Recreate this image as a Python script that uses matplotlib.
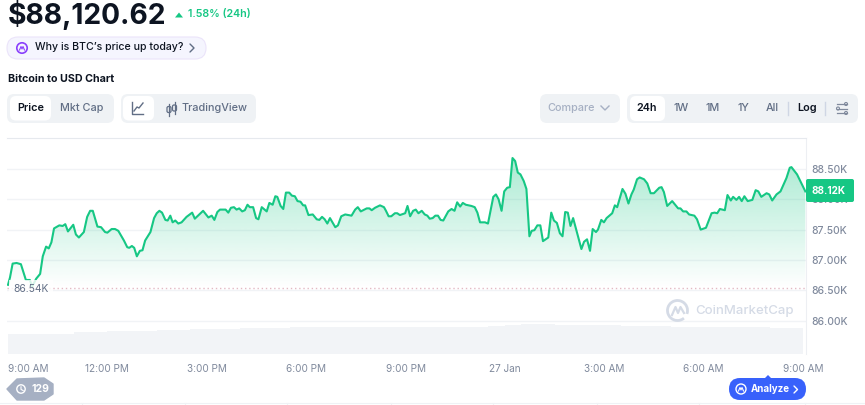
# -*- coding: utf-8 -*-
"""Bitcoin to USD chart, 24h view with the page controls around it."""
import numpy as np
import matplotlib
matplotlib.use("Agg")
import matplotlib.pyplot as plt
from matplotlib.patches import FancyBboxPatch, Polygon, Circle, Arc

plt.rcParams["font.family"] = ["Inter", "DejaVu Sans"]

GREEN = "#16C784"
GREY = "#808A9D"
SLATE = "#616E85"
PANEL = "#EFF2F5"
BAND = "#F2F4F7"
GRID = "#F1F3F6"
INK = "#0D1421"

# hours since 9:00 AM, price in thousands of USD
hours = [
    0.00, 0.06, 0.14, 0.26, 0.39, 0.54, 0.66, 0.73, 0.85, 0.97, 1.05, 1.15, 1.23, 1.31, 1.39, 1.55,
    1.65, 1.73, 1.81, 1.97, 2.05, 2.14, 2.29, 2.39, 2.48, 2.56, 2.70, 2.81, 2.93, 3.00, 3.13, 3.23,
    3.33, 3.50, 3.60, 3.66, 3.74, 3.81, 3.89, 3.98, 4.06, 4.14, 4.30, 4.41, 4.49, 4.57, 4.65, 4.75,
    4.82, 4.90, 4.97, 5.05, 5.14, 5.24, 5.39, 5.56, 5.64, 5.89, 6.05, 6.15, 6.23, 6.32, 6.40, 6.57,
    6.65, 6.73, 6.82, 6.90, 6.98, 7.07, 7.15, 7.23, 7.30, 7.40, 7.49, 7.56, 7.66, 7.81, 7.89, 7.99,
    8.07, 8.13, 8.23, 8.31, 8.39, 8.49, 8.57, 8.66, 8.74, 8.83, 8.91, 8.97, 9.07, 9.20, 9.32, 9.40,
    9.48, 9.56, 9.64, 9.72, 9.88, 9.96, 10.06, 10.18, 10.27, 10.37, 10.48, 10.56, 10.65, 10.83,
    10.91, 10.98, 11.08, 11.23, 11.35, 11.41, 11.49, 11.57, 11.68, 11.75, 11.83, 11.99, 12.06,
    12.14, 12.23, 12.31, 12.39, 12.49, 12.58, 12.66, 12.73, 12.82, 12.90, 12.98, 13.06, 13.14,
    13.29, 13.39, 13.48, 13.56, 13.65, 13.73, 13.82, 13.99, 14.09, 14.17, 14.25, 14.40, 14.49,
    14.65, 14.73, 14.81, 14.90, 14.98, 15.07, 15.15, 15.23, 15.31, 15.39, 15.47, 15.57, 15.65,
    15.74, 15.81, 15.89, 15.98, 16.07, 16.15, 16.23, 16.31, 16.40, 16.48, 16.57, 16.66, 16.74,
    16.82, 16.90, 16.98, 17.06, 17.31, 17.39, 17.48, 17.57, 17.65, 17.75, 17.81, 17.91, 17.99,
    18.07, 18.24, 18.32, 18.39, 18.55, 18.64, 18.73, 18.82, 18.89, 18.99, 19.07, 19.20, 19.30,
    19.40, 19.50, 19.66, 19.73, 19.80, 19.90, 20.05, 20.23, 20.30, 20.38, 20.48, 20.56, 20.72,
    20.80, 20.91, 21.07, 21.24, 21.33, 21.41, 21.49, 21.64, 21.72, 21.82, 21.89, 21.99, 22.07,
    22.15, 22.23, 22.33, 22.47, 22.57, 22.65, 22.74, 22.90, 22.98, 23.07, 23.20, 23.32, 23.50,
    23.60, 23.65, 23.82, 24.07,
]
prices = [
    86.59, 86.71, 86.94, 86.95, 86.93, 86.67, 86.67, 86.56, 86.69, 86.77, 87.06, 87.22, 87.19, 87.29, 87.52, 87.57,
    87.56, 87.59, 87.47, 87.58, 87.42, 87.37, 87.46, 87.71, 87.81, 87.81, 87.55, 87.54, 87.46, 87.45, 87.51, 87.51,
    87.48, 87.32, 87.21, 87.20, 87.23, 87.20, 87.06, 87.15, 87.16, 87.32, 87.46, 87.69, 87.77, 87.81, 87.78, 87.66,
    87.65, 87.73, 87.62, 87.65, 87.60, 87.62, 87.71, 87.78, 87.68, 87.81, 87.70, 87.73, 87.66, 87.79, 87.83, 87.83,
    87.78, 87.86, 87.87, 87.83, 87.85, 87.80, 87.82, 87.91, 87.87, 87.87, 87.69, 87.67, 87.87, 87.80, 87.94, 87.91,
    88.05, 88.04, 87.89, 87.84, 88.11, 88.11, 88.06, 88.05, 87.97, 87.96, 87.90, 87.90, 87.74, 87.75, 87.67, 87.66,
    87.71, 87.67, 87.60, 87.69, 87.54, 87.57, 87.72, 87.75, 87.74, 87.73, 87.83, 87.87, 87.80, 87.85,
    87.85, 87.82, 87.86, 87.90, 87.87, 87.81, 87.72, 87.72, 87.77, 87.77, 87.74, 87.77, 87.89,
    87.72, 87.81, 87.83, 87.77, 87.81, 87.75, 87.73, 87.68, 87.69, 87.73, 87.73, 87.66, 87.65,
    87.80, 87.84, 87.81, 87.95, 87.88, 87.94, 87.91, 87.89, 87.87, 87.78, 87.62, 87.62, 87.60,
    88.04, 88.08, 88.00, 87.81, 88.13, 88.19, 88.20, 88.68, 88.63, 88.44, 88.41, 88.30, 88.17,
    87.39, 87.48, 87.49, 87.57, 87.57, 87.31, 87.34, 87.37, 87.78, 87.65, 87.61, 87.44, 87.39,
    87.79, 87.78, 87.56, 87.69, 87.18, 87.30, 87.34, 87.15, 87.51, 87.46, 87.50, 87.66, 87.62,
    87.69, 87.77, 87.90, 87.87, 88.17, 88.09, 87.93, 88.08, 88.16, 88.33, 88.36, 88.33, 88.26,
    88.10, 88.10, 88.19, 88.20, 88.12, 87.89, 87.97, 87.85, 87.85, 87.80, 87.80, 87.75, 87.73,
    87.67, 87.50, 87.53, 87.77, 87.78, 87.77, 87.84, 87.82, 88.07, 87.98, 88.04, 87.99, 88.04,
    87.97, 88.05, 87.97, 87.99, 88.15, 88.13, 88.04, 88.10, 88.08, 87.98, 88.08, 88.13, 88.35,
    88.52, 88.53, 88.41, 88.13,
]
# half-hourly volume, relative height
volumes = [
    19.7, 19.8, 20.2, 20.5, 22.0, 22.0, 22.8, 23.0, 23.2, 23.8, 23.8, 25.0, 25.0, 25.2, 25.7, 25.8,
    26.0, 26.7, 26.7, 26.7, 26.7, 26.7, 26.7, 26.7, 26.7, 26.7, 26.8, 26.7, 27.0, 28.0, 29.5, 29.8,
    30.0, 29.5, 29.0, 29.0, 29.0, 28.5, 28.5, 28.0, 27.5, 27.5, 27.5, 27.0, 26.8, 26.7, 26.3, 26.0,
]
price_ticks = [86.0, 86.5, 87.0, 87.5, 88.0, 88.5]
price_labels = ["86.00K", "86.50K", "87.00K", "87.50K", "88.00K", "88.50K"]
time_ticks = [0, 3, 6, 9, 12, 15, 18, 21, 24]
time_labels = ["9:00 AM", "12:00 PM", "3:00 PM", "6:00 PM", "9:00 PM",
               "27 Jan", "3:00 AM", "6:00 AM", "9:00 AM"]
open_price = 86.546


def px_rect(x0, y0, x1, y1):
    return [x0 / 865, 1 - y1 / 405, (x1 - x0) / 865, (y1 - y0) / 405]


fig = plt.figure(figsize=(8.65, 4.05), dpi=100, facecolor="white")
rect = px_rect(7, 138, 806, 354)

# volume band sits behind the price axes
vax = fig.add_axes(rect, zorder=0)
vax.bar(np.arange(len(volumes)) * 0.5, volumes, width=0.5, align="edge", color=BAND, linewidth=0,
        antialiased=False)
vax.set_xlim(-0.03, 24.09)
vax.set_ylim(0, 216)
vax.axis("off")

ax = fig.add_axes(rect, zorder=1)
ax.patch.set_visible(False)
ax.set_xlim(-0.03, 24.09)
ax.set_ylim(85.45, 89.01)

# fill under the line, fading to nothing at the open price
poly = ax.fill_between(hours, prices, open_price, color="none")
grad = np.zeros((256, 1, 4))
grad[:, :, 0] = 0x16 / 255
grad[:, :, 1] = 0xC7 / 255
grad[:, :, 2] = 0x84 / 255
grad[:, 0, 3] = np.linspace(0.36, 0.0, 256)
im = ax.imshow(grad, extent=[-0.03, 24.09, open_price, 88.68], aspect="auto",
               interpolation="bilinear", zorder=2)
im.set_clip_path(poly.get_paths()[0], transform=ax.transData)
ax.set_xlim(-0.03, 24.09)
ax.set_ylim(85.45, 89.01)

ax.plot(hours, prices, color=GREEN, linewidth=1.5, solid_joinstyle="round", zorder=3)
ax.axhline(open_price, color="#E3BAC4", linewidth=1.0, linestyle=(0, (1, 2)), zorder=3)

ax.set_yticks(price_ticks)
ax.set_yticklabels(price_labels, fontsize=7.4, color=GREY, fontweight="medium")
ax.yaxis.tick_right()
ax.set_xticks(time_ticks)
ax.set_xticklabels(time_labels, fontsize=7.2, color=GREY)
ax.get_xticklabels()[0].set_ha("left")
ax.tick_params(axis="both", length=0)
ax.tick_params(axis="y", pad=4)
ax.tick_params(axis="x", pad=7.5)
ax.grid(axis="y", color=GRID, linewidth=1.0, zorder=1)
ax.set_axisbelow(True)
for s in ("left", "bottom"):
    ax.spines[s].set_visible(False)
ax.spines["top"].set_color("#E6E9EE")
ax.spines["right"].set_color("#EDEFF3")

# open price label, white box hides the line behind it
ax.text(0.15, open_price - 0.03, "86.54K", fontsize=7.4, color=SLATE, va="center", ha="left", zorder=5,
        bbox=dict(facecolor="white", edgecolor="none", alpha=0.82, pad=3))

# page controls, drawn in pixel coordinates
ui = fig.add_axes([0, 0, 1, 1], zorder=3)
ui.set_xlim(0, 865)
ui.set_ylim(405, 0)
ui.axis("off")


def box(x0, y0, x1, y1, r, fc, ec="none", lw=0):
    ui.add_patch(FancyBboxPatch((x0, y0), x1 - x0, y1 - y0, boxstyle=f"round,pad=0,rounding_size={r}",
                                fc=fc, ec=ec, lw=lw))


def label(x, y, s, size=7.8, color=INK, weight="normal", ha="center"):
    ui.text(x, y, s, fontsize=size, color=color, fontweight=weight, ha=ha, va="center")


def chevron_right(x, y, h, color, lw=1.0):
    ui.plot([x, x + h, x], [y - h, y, y + h], color=color, lw=lw, solid_capstyle="round")


label(8, 15, "$88,120.62", size=20.3, weight="bold", ha="left")
ui.add_patch(Polygon([[175, 17.5], [183, 17.5], [179, 12.5]], fc=GREEN, ec="none"))
label(188, 14.5, "1.58% (24h)", size=7.7, color=GREEN, weight="semibold", ha="left")

box(7, 37, 206, 59, 11, "#F5F5FE", "#EBE4FA", 0.8)
ui.add_patch(Circle((22, 48), 5.2, fc="none", ec="#8A3FFC", lw=1.2))
ui.plot([19.5, 21, 22, 23, 24.5], [50, 46.5, 49, 46.5, 50], color="#8A3FFC", lw=0.8)
label(35, 47.5, "Why is BTC’s price up today?", size=7.6, weight="medium", ha="left")
chevron_right(190, 48, 4, SLATE)

label(8, 79, "Bitcoin to USD Chart", size=7.7, weight="bold", ha="left")

box(7, 94, 114, 123, 7, PANEL)
box(10, 96, 51, 120.5, 6, "white")
label(30.5, 108, "Price", weight="semibold")
label(82, 108, "Mkt Cap", color=SLATE, weight="medium")

box(121, 94, 256, 123, 7, PANEL)
box(123, 96, 154, 120.5, 6, "white")
ui.plot([132, 132, 143], [102, 113.5, 113.5], color=SLATE, lw=1.0)
ui.plot([134, 137, 139, 143], [111, 107, 108, 103], color=SLATE, lw=1.0)
for xc, yc in [(169, 109.5), (174.5, 108)]:
    ui.add_patch(FancyBboxPatch((xc - 2, yc - 3), 4, 6, boxstyle="round,pad=0,rounding_size=1.5",
                                fc="none", ec=SLATE, lw=0.9))
    ui.plot([xc, xc], [yc - 6, yc + 6], color=SLATE, lw=0.9)
label(182, 108, "TradingView", color=SLATE, weight="medium", ha="left")

box(540, 94, 620, 123, 7, PANEL)
label(571, 108, "Compare", color="#A6B0C3", weight="medium")
ui.plot([601, 605, 609], [106, 110, 106], color="#A6B0C3", lw=1.0)

box(627, 94, 858, 123, 7, PANEL)
box(630, 96, 665, 121, 6, "white")
label(647, 108, "24h", weight="semibold")
for xc, s in [(681, "1W"), (713, "1M"), (743, "1Y"), (772, "All")]:
    label(xc, 108, s, color=SLATE, weight="medium")
label(807, 108, "Log", weight="semibold")
for xc in (788, 825):
    ui.plot([xc, xc], [102, 115], color="#CFD6E4", lw=1.0)
for yc, xc in [(104, 846), (108.5, 838), (113, 846)]:
    ui.plot([837, 847], [yc, yc], color=GREY, lw=0.9)
    ui.add_patch(Circle((xc, yc), 1.5, fc=PANEL, ec=GREY, lw=0.8))

# current price tag
box(806, 179, 854, 202, 2, GREEN)
label(812, 190.5, "88.12K", size=7.2, color="white", weight="bold", ha="left")

# watermark
ui.add_patch(Arc((677.5, 310.5), 20, 20, theta1=50, theta2=20, color="#D5DBE6", lw=2))
ui.plot([672, 675.5, 678, 680.5, 684], [315, 307, 313, 307, 313], color="#D5DBE6", lw=1.6)
label(695, 311, "CoinMarketCap", size=9.5, color="#D5DBE6", weight="medium", ha="left")

# bottom badges
ui.add_patch(Polygon([[7, 389], [17, 379], [44, 378], [53, 384], [53, 394], [44, 400], [17, 400]],
                     closed=True, fc="#A6B0C3", ec="#A6B0C3", lw=1, joinstyle="round"))
ui.add_patch(Circle((21, 389), 4.2, fc="none", ec="white", lw=1.0))
ui.plot([21, 21, 23.2], [386.8, 389.4, 390.6], color="white", lw=0.8)
label(31, 389.5, "129", size=7.5, color="white", weight="bold", ha="left")

box(729, 378, 806, 400, 11, "#3861FB")
ui.add_patch(Polygon([[765, 378], [768, 375], [771, 378]], fc="#3861FB", ec="none"))
ui.add_patch(Circle((741, 389), 5, fc="none", ec="white", lw=1.0))
ui.plot([738.5, 740, 741, 742, 743.5], [391, 387.5, 390, 387.5, 391], color="white", lw=0.8)
label(751, 389.5, "Analyze", size=7.0, color="white", weight="bold", ha="left")
chevron_right(794, 389.5, 3.5, "white")

# faint ruler along the bottom edge
ui.plot([0, 865], [402.5, 402.5], color=PANEL, lw=0.8)
for xc in (82, 185, 287, 391, 493, 597, 699, 805):
    ui.plot([xc, xc], [402.5, 405], color=PANEL, lw=0.8)

fig.savefig("out.png", dpi=100)
